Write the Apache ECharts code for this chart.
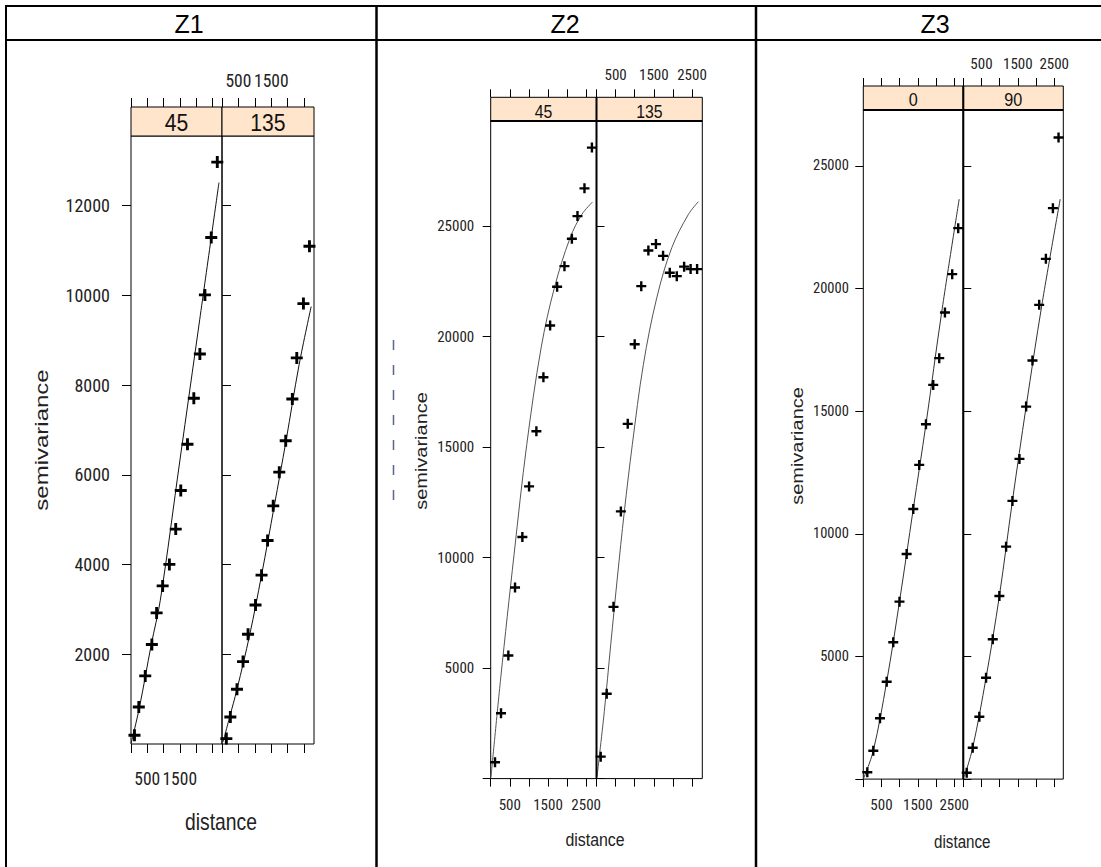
<!DOCTYPE html>
<html><head><meta charset="utf-8">
<script src="https://cdn.jsdelivr.net/npm/echarts@6/dist/echarts.min.js"></script>
<style>html,body{margin:0;padding:0;background:#fff}#c{width:1101px;height:867px}</style>
</head><body><div id="c"></div>
<script>
// ---------------- DATA ----------------
const columnTitles = ['Z1', 'Z2', 'Z3'];
const stripLabelsZ1 = ['45', '135'];
const stripLabelsZ2 = ['45', '135'];
const stripLabelsZ3 = ['0', '90'];
const xTitle = 'distance';
const yTitle = 'semivariance';

const xTickValues = [0, 500, 1000, 1500, 2000, 2500];
const xLabelValuesZ1 = [500, 1500];
const xLabelValuesZ2 = [500, 1500, 2500];
const xLabelValuesZ3 = [500, 1500, 2500];
const yTickValuesZ1 = [2000, 4000, 6000, 8000, 10000, 12000];
const yLabelValuesZ1 = [2000, 4000, 6000, 8000, 10000, 12000];
const yTickValuesZ2 = [0, 5000, 10000, 15000, 20000, 25000];
const yLabelValuesZ2 = [5000, 10000, 15000, 20000, 25000];
const yTickValuesZ3 = [0, 5000, 10000, 15000, 20000, 25000];
const yLabelValuesZ3 = [5000, 10000, 15000, 20000, 25000];

const distZ1_45  = [107, 240, 438, 642, 788, 974, 1181, 1376, 1531, 1738, 1933, 2119, 2274, 2469, 2655];
const gammaZ1_45 = [194, 825, 1517, 2217, 2922, 3524, 4002, 4789, 5650, 6679, 7705, 8693, 10009, 11287, 12969];
const fitDistZ1_45  = [5, 262, 624, 902, 1506, 2113, 2707];
const fitGammaZ1_45 = [16, 825, 2217, 3205, 6328, 9452, 12514];
const distZ1_135  = [132, 254, 456, 640, 793, 1020, 1204, 1387, 1559, 1743, 1939, 2141, 2276, 2478, 2662];
const gammaZ1_135 = [120, 602, 1220, 1836, 2445, 3099, 3763, 4535, 5307, 6059, 6758, 7689, 8604, 9815, 11094];
const fitDistZ1_135  = [34, 233, 456, 845, 1204, 1590, 1948, 2346, 2714];
const fitGammaZ1_135 = [49, 602, 1217, 2440, 3763, 5302, 6752, 8450, 9748];

const distZ2_45  = [113, 270, 462, 637, 829, 1005, 1196, 1380, 1556, 1739, 1931, 2125, 2272, 2455, 2650];
const gammaZ2_45 = [738, 2957, 5566, 8646, 10928, 13220, 15711, 18157, 20498, 22251, 23184, 24425, 25448, 26703, 28546];
const fitDistZ2_45  = [8, 262, 611, 944, 1320, 1668, 2080, 2387, 2665];
const fitGammaZ2_45 = [86, 4543, 10127, 15109, 19488, 22206, 24470, 25525, 26083];
const distZ2_135  = [110, 267, 445, 638, 818, 1000, 1172, 1358, 1556, 1743, 1918, 2102, 2294, 2464, 2634];
const gammaZ2_135 = [992, 3840, 7770, 12088, 16050, 19650, 22278, 23890, 24180, 23650, 22885, 22731, 23160, 23050, 23050];
const fitDistZ2_135  = [13, 204, 372, 545, 729, 938, 1227, 1578, 1971, 2406, 2668];
const fitGammaZ2_135 = [86, 3030, 6051, 9072, 12088, 15109, 18732, 21753, 24017, 25525, 26100];

const distZ3_0  = [110, 275, 459, 643, 824, 995, 1192, 1374, 1538, 1723, 1923, 2088, 2245, 2445, 2610];
const gammaZ3_0 = [277, 1158, 2480, 3972, 5579, 7235, 9180, 11015, 12810, 14470, 16073, 17162, 19021, 20587, 22463];
const fitDistZ3_0  = [0, 275, 643, 995, 1374, 1723, 2154, 2637];
const fitGammaZ3_0 = [0, 1158, 3972, 7235, 11015, 14470, 19021, 23646];
const distZ3_90  = [94, 259, 441, 626, 810, 992, 1177, 1351, 1544, 1728, 1902, 2087, 2271, 2464, 2619];
const gammaZ3_90 = [261, 1281, 2545, 4135, 5701, 7467, 9478, 11342, 13055, 15188, 17064, 19336, 21211, 23279, 26158];
const fitDistZ3_90  = [28, 259, 626, 992, 1351, 1728, 2161, 2665];
const fitGammaZ3_90 = [98, 1281, 4135, 7467, 11342, 15188, 19336, 23646];

// ---------------- LAYOUT / STYLE ----------------
const NARROW = "'Roboto Condensed','DejaVu Sans Condensed',sans-serif";
const SANS = "'Liberation Sans',Arial,sans-serif";
const PLUS = 'path://M3.8,0H6.2V3.8H10V6.2H6.2V10H3.8V6.2H0V3.8H3.8Z';

const columns = [
  { title: columnTitles[0], titleX: 189, strips: stripLabelsZ1,
    xLabels: xLabelValuesZ1, yTicks: yTickValuesZ1, yLabels: yLabelValuesZ1,
    series: [[distZ1_45, gammaZ1_45, fitDistZ1_45, fitGammaZ1_45], [distZ1_135, gammaZ1_135, fitDistZ1_135, fitGammaZ1_135]],
    panels: [{ left: 131, width: 91 }, { left: 222, width: 92 }], top: 136, bottom: 744, stripTop: 107,
    xMax: 2800, yMax: 13550, tick: 9, labelSize: 18, xLabelSize: 17.5, yMargin: 21, xMarginB: 25.5, xMarginT: 17,
    sym: 12, lineColor: '#111', thickMid: false,
    stripFont: 23, stripScale: 0.92, stripTextY: 123,
    yT: { x: 42, y: 440, size: 24, sx: 1.0, sy: 0.76 }, xT: { x: 221, y: 822, size: 23, sx: 0.84 } },
  { title: columnTitles[1], titleX: 565, strips: stripLabelsZ2,
    xLabels: xLabelValuesZ2, yTicks: yTickValuesZ2, yLabels: yLabelValuesZ2,
    series: [[distZ2_45, gammaZ2_45, fitDistZ2_45, fitGammaZ2_45], [distZ2_135, gammaZ2_135, fitDistZ2_135, fitGammaZ2_135]],
    panels: [{ left: 490.7, width: 105.8 }, { left: 596.5, width: 105.8 }], top: 121, bottom: 778.6, stripTop: 97.3,
    xMax: 2770, yMax: 29750, tick: 8, labelSize: 15, xLabelSize: 15, yMargin: 16.5, xMarginB: 18.5, xMarginT: 14.5,
    sym: 10, lineColor: '#555', thickMid: true,
    stripFont: 18.6, stripScale: 0.85, stripTextY: 111.5,
    yT: { x: 421, y: 451, size: 20, sx: 1.0, sy: 0.82 }, xT: { x: 595, y: 840, size: 18.5, sx: 0.86 } },
  { title: columnTitles[2], titleX: 935, strips: stripLabelsZ3,
    xLabels: xLabelValuesZ3, yTicks: yTickValuesZ3, yLabels: yLabelValuesZ3,
    series: [[distZ3_0, gammaZ3_0, fitDistZ3_0, fitGammaZ3_0], [distZ3_90, gammaZ3_90, fitDistZ3_90, fitGammaZ3_90]],
    panels: [{ left: 863.3, width: 100 }, { left: 963.3, width: 100 }], top: 110, bottom: 779.1, stripTop: 86,
    xMax: 2750, yMax: 27280, tick: 8, labelSize: 14.5, xLabelSize: 15, yMargin: 14.5, xMarginB: 18.5, xMarginT: 14.2,
    sym: 10, lineColor: '#333', thickMid: true,
    stripFont: 18.6, stripScale: 0.87, stripTextY: 100,
    yT: { x: 797, y: 446, size: 20, sx: 1.0, sy: 0.82 }, xT: { x: 962.3, y: 841.5, size: 18.5, sx: 0.82 } }
];

const fmt = v => String(v);
const grids = [], xAxes = [], yAxes = [], series = [], graphics = [];

columns.forEach((col, c) => {
  const h = col.bottom - col.top;
  const stripH = col.top - col.stripTop;
  col.panels.forEach((pan, p) => {
    const g = grids.length;
    grids.push({ left: pan.left, top: col.top, width: pan.width, height: h, show: true,
      borderColor: '#000', borderWidth: 1, backgroundColor: 'rgba(0,0,0,0)' });
    const baseX = { gridIndex: g, type: 'value', min: 0, max: col.xMax,
      axisLine: { show: false }, splitLine: { show: false } };
    const lab = (show, vals, margin, size) => ({ show, customValues: vals, formatter: fmt, margin,
      showMinLabel: true, showMaxLabel: true, hideOverlap: false,
      fontFamily: NARROW, fontSize: size, color: '#222' });
    xAxes.push(Object.assign({}, baseX, { position: 'bottom',
      axisTick: { show: true, length: col.tick, customValues: xTickValues, lineStyle: { color: '#000', width: 1 } },
      axisLabel: lab(p === 0, col.xLabels, col.xMarginB, col.xLabelSize) }));
    xAxes.push(Object.assign({}, baseX, { position: 'top', offset: stripH,
      axisTick: { show: true, length: col.tick, customValues: xTickValues, lineStyle: { color: '#000', width: 1 } },
      axisLabel: lab(p === 1, col.xLabels, col.xMarginT, col.xLabelSize) }));
    yAxes.push({ gridIndex: g, type: 'value', min: 0, max: col.yMax, position: p === 0 ? 'left' : 'right',
      axisLine: { show: false }, splitLine: { show: false },
      axisTick: { show: true, length: col.tick, customValues: col.yTicks, lineStyle: { color: '#000', width: 1 } },
      axisLabel: lab(p === 0, col.yLabels, col.yMargin, col.labelSize) });
    const [pd, pg, fd, fg] = col.series[p];
    series.push({ type: 'line', xAxisIndex: g * 2, yAxisIndex: g, data: fd.map((d, i) => [d, fg[i]]),
      showSymbol: false, smooth: 0.35, clip: false, z: 2,
      lineStyle: { color: col.lineColor, width: 1 }, silent: true });
    series.push({ type: 'scatter', xAxisIndex: g * 2, yAxisIndex: g, data: pd.map((d, i) => [d, pg[i]]),
      symbol: PLUS, symbolSize: col.sym, clip: false, z: 3, itemStyle: { color: '#000', opacity: 1 }, silent: true });
    graphics.push({ type: 'rect', shape: { x: pan.left, y: col.stripTop, width: pan.width, height: stripH },
      style: { fill: '#FFE5CC', stroke: '#000', lineWidth: 1 }, z: 10 });
    graphics.push({ type: 'text', x: pan.left + pan.width / 2, y: col.stripTextY, scaleX: col.stripScale, z: 11,
      style: { text: col.strips[p], font: col.stripFont + 'px ' + SANS, fill: '#111', textAlign: 'center', textVerticalAlign: 'middle' } });
  });
  const pL = col.panels[0], pR = col.panels[1];
  if (col.thickMid) {
    graphics.push({ type: 'line', shape: { x1: pL.left, y1: col.top, x2: pR.left + pR.width, y2: col.top },
      style: { stroke: '#000', lineWidth: 2.2 }, z: 12 });
    graphics.push({ type: 'line', shape: { x1: pR.left, y1: col.stripTop, x2: pR.left, y2: col.bottom },
      style: { stroke: '#000', lineWidth: 2 }, z: 12 });
  }
  graphics.push({ type: 'text', x: col.titleX, y: 24, z: 11,
    style: { text: col.title, font: '25px ' + SANS, fill: '#000', textAlign: 'center', textVerticalAlign: 'middle' } });
  graphics.push({ type: 'text', x: col.xT.x, y: col.xT.y, scaleX: col.xT.sx, z: 11,
    style: { text: xTitle, font: col.xT.size + 'px ' + SANS, fill: '#222', textAlign: 'center', textVerticalAlign: 'middle' } });
  graphics.push({ type: 'text', x: col.yT.x, y: col.yT.y, rotation: Math.PI / 2, scaleX: col.yT.sx, scaleY: col.yT.sy, z: 11,
    style: { text: yTitle, font: col.yT.size + 'px ' + SANS, fill: '#222', textAlign: 'center', textVerticalAlign: 'middle' } });
});

const frame = [
  [5, 6, 1101, 6, 2], [5, 40, 1101, 40, 2], [6, 5, 6, 867, 2],
  [376.5, 5, 376.5, 867, 2.5], [756, 5, 756, 867, 2.5]
];
frame.forEach(f => graphics.push({ type: 'line', shape: { x1: f[0], y1: f[1], x2: f[2], y2: f[3] },
  style: { stroke: '#000', lineWidth: f[4] }, z: 20 }));
graphics.push({ type: 'line', shape: { x1: 393.5, y1: 340, x2: 393.5, y2: 503 },
  style: { stroke: '#5a6690', lineWidth: 1.5, lineDash: [10, 15] }, z: 20 });

const chart = echarts.init(document.getElementById('c'), null, { renderer: 'svg', width: 1101, height: 867 });
chart.setOption({
  animation: false,
  backgroundColor: '#fff',
  grid: grids, xAxis: xAxes, yAxis: yAxes, series: series,
  graphic: { elements: graphics }
});
</script></body></html>
